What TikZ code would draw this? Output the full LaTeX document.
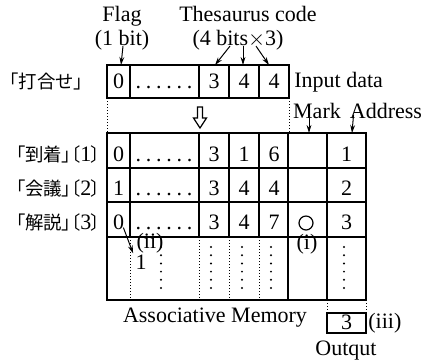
\documentclass[tikz,border=0pt]{standalone}
\usepackage{fontspec}
\usepackage{tikz}
\setmainfont{Liberation Serif}
\newfontfamily\cjk[RawFeature=+palt]{Noto Sans CJK JP}
\usetikzlibrary{arrows.meta, positioning, calc}

\newcommand{\rowdots}{.\kern2.4pt.\kern2.4pt.\kern2.4pt.\kern2.4pt.\kern2.4pt.}
\newcommand{\jfont}{\cjk\fontsize{9.2}{11}\selectfont}
\newcommand{\jlabel}[2]{{\jfont 「#1」〔}#2{\jfont 〕}}

\begin{document}
\begin{tikzpicture}[x=0.5pt, y=-0.5pt, font=\fontsize{11}{13}\selectfont,
    cell/.style={inner sep=0pt, anchor=base},
    ptr/.style={-{Stealth[length=4pt,width=2.4pt]}, line width=0.5pt},
    thinline/.style={line width=0.55pt},
    boldline/.style={line width=1pt},
    dotline/.style={line width=0.5pt, dash pattern=on 0.6pt off 0.9pt}]
    \useasboundingbox (0,0) rectangle (422,361);

    % headers
    \node[cell] (flag) at (122,21) {Flag};
    \node[cell] (bit) at (122,45) {(1 bit)};
    \node[cell] (thes) at (248,21) {Thesaurus code};
    \node[cell] (bits) at (238,45) {(4 bits$\times$3)};

    % input data
    \draw[boldline] (107,65) rectangle (289,98);
    \foreach \x in {130,199,229,259} \draw[thinline] (\x,65) -- (\x,98);
    \foreach \n/\x/\v in {i0/118.5/0, i1/164/\rowdots, i2/214/3, i3/244/4, i4/274/4}
        \node[cell] (\n) at (\x,88) {\v};
    \node[anchor=east, inner sep=0pt] (match) at (83,81) {{\jfont 「打合せ」}};
    \node[anchor=west, inner sep=0pt] (input) at (294,82) {Input data};

    \coordinate (flagtop) at (121,65);
    \coordinate (t1) at (215,65);
    \coordinate (t2) at (243,65);
    \coordinate (t3) at (269,65);
    \draw[ptr] ($(bit.south)+(1,-4)$) -- (flagtop);
    \draw[ptr] ($(bits.south)+(-8,-4)$) -- (t1);
    \draw[ptr] ($(bits.south)+(5,-4)$) -- (t2);
    \draw[ptr] ($(bits.south)+(18,-4)$) -- (t3);

    % transfer
    \draw[dotline] (107,98) -- (107,133);
    \draw[dotline] (289,98) -- (289,133);
    \draw[line width=0.6pt] (197.5,107) -- (202.5,107) -- (202.5,118) -- (206.5,118)
        -- (200,128) -- (193.5,118) -- (197.5,118) -- cycle;

    \node[cell] (mark) at (317,118) {Mark};
    \node[cell] (addr) at (386,118) {Address};
    \coordinate (marktop) at (309,133);
    \coordinate (addrtop) at (352,133);
    \draw[ptr] ($(mark.south)+(-8,-4)$) -- (marktop);
    \draw[ptr] ($(addr.south west)+(4,-4)$) -- (addrtop);

    % associative memory
    \foreach \y in {168,202,237} \draw[thinline] (107,\y) -- (366,\y);
    \foreach \x in {130,199,229,259} {
        \draw[thinline] (\x,133) -- (\x,237);
        \draw[dotline] (\x,237) -- (\x,300);
    }
    \draw[thinline] (327,133) -- (327,300);
    \draw[boldline] (288,133) -- (288,300);
    \draw[boldline] (107,133) rectangle (366,300);

    \foreach \r/\y/\fl/\ca/\cb/\cc/\w in {1/161/0/3/1/6/到着, 2/195/1/3/4/4/会議, 3/229/0/3/4/7/解説} {
        \node[cell] (f\r) at (118.5,\y) {\fl};
        \node[cell] (d\r) at (164,\y) {\rowdots};
        \node[cell] (a\r) at (214,\y) {\ca};
        \node[cell] (b\r) at (244,\y) {\cb};
        \node[cell] (c\r) at (274,\y) {\cc};
        \node[cell] (ad\r) at (346.5,\y) {\r};
        \node[anchor=east, inner sep=0pt] (w\r) at (101,\y-7) {\jlabel{\w}{\r}};
    }
    \draw[line width=0.6pt] (306,223) circle (7);

    \foreach \x in {161,211,242,271,344}
        \foreach \k in {0,...,5}
            \fill (\x,247+8.2*\k) circle (1.1);

    \node[inner sep=0pt] (one) at (141,262) {1};
    \draw[ptr] ($(f3.south east)+(-1,-2)$) -- ($(one.north west)+(-2,-1)$);
    \node[inner sep=0pt] (ii) at (150,243) {(ii)};
    \node[inner sep=0pt] (i) at (307,244) {(i)};

    \node[inner sep=0pt] (assoc) at (215,318) {Associative Memory};

    % output
    \draw[dotline] (327,300) -- (327,313);
    \draw[dotline] (366,300) -- (366,313);
    \draw[boldline] (327,313) rectangle (366,333);
    \node[cell] (out) at (346.5,329) {3};
    \node[anchor=west, inner sep=0pt] (iii) at (368,323) {(iii)};
    \node[inner sep=0pt] (outlbl) at (346,351) {Outqut};
\end{tikzpicture}
\end{document}
